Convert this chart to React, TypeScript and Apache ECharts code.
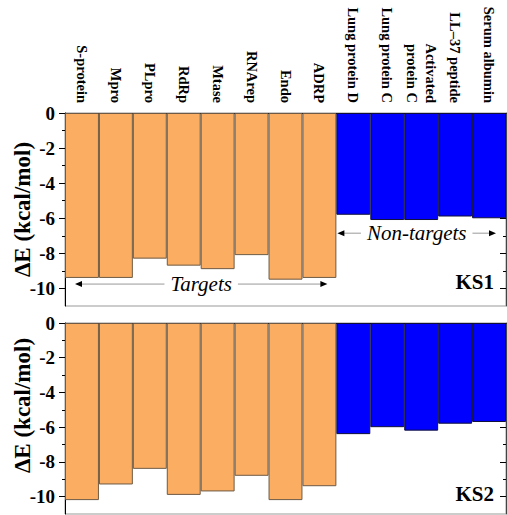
import React, { useEffect, useRef } from 'react';
import * as echarts from 'echarts';

const categories = [
  'S-protein', 'Mpro', 'PLpro', 'RdRp', 'Mtase', 'RNArep', 'Endo', 'ADRP',
  'Lung protein D', 'Lung protein C', 'Activated\nprotein C', 'LL–37 peptide', 'Serum albumin',
];
const ks1Values = [-9.4, -9.4, -8.3, -8.7, -8.9, -8.1, -9.5, -9.4, -5.8, -6.1, -6.1, -5.9, -6.0];
const ks2Values = [-10.2, -9.3, -8.4, -9.9, -9.7, -8.8, -10.2, -9.4, -6.4, -6.0, -6.2, -5.8, -5.7];
const targetCount = 8;
const panelLabels = ['KS1', 'KS2'];
const yName = 'ΔE (kcal/mol)';
const yMin = -11;
const yMax = 0;
const majorTicks = [0, -2, -4, -6, -8, -10];
const minorTicks = [-1, -3, -5, -7, -9];

const SERIF = 'Liberation Serif';
const ORANGE = '#FBAD62';
const BLUE = '#0000FF';

const grids = [
  { left: 65, top: 113, right: 1, height: 193 },
  { left: 65, top: 323, right: 1, height: 191 },
];

function yAxisFor(gridIndex: number, right: boolean, major: boolean) {
  const vals = major ? majorTicks : minorTicks;
  return {
    type: 'value',
    gridIndex,
    position: right ? 'right' : 'left',
    offset: 0,
    min: yMin,
    max: yMax,
    axisLine: {
      show: major,
      onZero: false,
      lineStyle: { color: right ? '#444' : '#000', width: 1 },
    },
    axisTick: {
      show: true,
      inside: right,
      length: major ? 6 : 3,
      customValues: vals,
      lineStyle: { color: '#000' },
    },
    splitLine: { show: false },
    axisLabel:
      !right && major
        ? {
            show: true,
            margin: 10,
            color: '#000',
            fontFamily: SERIF,
            fontWeight: 'bold',
            fontSize: 19,
            customValues: vals,
          }
        : { show: false },
  };
}

function xAxisFor(gridIndex: number, labels: boolean) {
  return {
    type: 'category',
    gridIndex,
    position: 'top',
    data: categories,
    boundaryGap: true,
    axisLine: { show: true, onZero: false, lineStyle: { color: '#000', width: 1 } },
    axisTick: { show: true, inside: true, length: 6, alignWithLabel: true, lineStyle: { color: '#000' } },
    axisLabel: labels
      ? {
          show: true,
          interval: 0,
          rotate: 90,
          margin: 10,
          color: '#000',
          fontFamily: SERIF,
          fontWeight: 'bold',
          fontSize: 14.5,
          lineHeight: 19,
        }
      : { show: false },
    splitLine: { show: false },
  };
}

function barSeries(gridIndex: number, values: number[]) {
  return {
    type: 'bar',
    xAxisIndex: gridIndex,
    yAxisIndex: gridIndex * 4,
    barCategoryGap: '0%',
    data: values.map((v, i) => ({
      value: v,
      itemStyle: {
        color: i < targetCount ? ORANGE : BLUE,
        borderColor: i < targetCount ? '#6e5a45' : '#10103a',
        borderWidth: 1,
      },
    })),
  };
}

export default function App() {
  const ref = useRef<HTMLDivElement>(null);
  useEffect(() => {
    if (!ref.current) return;
    const chart = echarts.init(ref.current, undefined, { renderer: 'svg' });
    chart.setOption({
      animation: false,
      backgroundColor: '#fff',
      grid: grids.map((g) => ({ ...g, show: true, borderColor: '#999', borderWidth: 1, backgroundColor: 'transparent' })),
      xAxis: [xAxisFor(0, true), xAxisFor(1, false)],
      yAxis: [
        yAxisFor(0, false, true), yAxisFor(0, false, false), yAxisFor(0, true, true), yAxisFor(0, true, false),
        yAxisFor(1, false, true), yAxisFor(1, false, false), yAxisFor(1, true, true), yAxisFor(1, true, false),
      ],
      series: [barSeries(0, ks1Values), barSeries(1, ks2Values)],
    });

    const px = (gi: number, x: number, y: number) =>
      chart.convertToPixel({ xAxisIndex: gi, yAxisIndex: gi * 4 } as any, [x, y]) as number[];
    const c0 = px(0, 0, 0);
    const c1 = px(0, 1, 0);
    const band = c1[0] - c0[0];
    const n = categories.length;
    const leftEdge = (i: number) => px(0, i, 0)[0] - band / 2;
    const rightEdge = (i: number) => px(0, i, 0)[0] + band / 2;

    const elements: any[] = [];
    const arrow = (x1: number, x2: number, y: number, label: string) => {
      elements.push({
        type: 'line',
        z: 10,
        shape: { x1: x1 + 4, y1: y, x2: x2 - 4, y2: y },
        style: { stroke: '#999', lineWidth: 1 },
      });
      elements.push({
        type: 'polygon',
        z: 11,
        shape: { points: [[x1, y], [x1 + 7, y - 3], [x1 + 7, y + 3]] },
        style: { fill: '#000' },
      });
      elements.push({
        type: 'polygon',
        z: 11,
        shape: { points: [[x2, y], [x2 - 7, y - 3], [x2 - 7, y + 3]] },
        style: { fill: '#000' },
      });
      elements.push({
        type: 'text',
        z: 12,
        x: (x1 + x2) / 2,
        y,
        style: {
          text: label,
          fill: '#000',
          fontFamily: SERIF,
          fontStyle: 'italic',
          fontSize: 21,
          align: 'center',
          verticalAlign: 'middle',
          backgroundColor: '#fff',
          padding: [0, 6],
        },
      });
    };
    const yT = px(0, 0, -9.75)[1];
    arrow(leftEdge(0) + 10, rightEdge(targetCount - 1) - 9, yT, 'Targets');
    const yN = px(0, 0, -6.85)[1];
    arrow(leftEdge(targetCount) + 1, rightEdge(n - 1) - 10, yN, 'Non-targets');

    [0, 1].forEach((gi) => {
      const top = px(gi, 0, yMax)[1];
      const bot = px(gi, 0, yMin)[1];
      elements.push({
        type: 'text',
        z: 12,
        x: 22,
        y: gi === 0 ? (top + bot) / 2 : (top + bot) / 2 - 13,
        rotation: Math.PI / 2,
        style: {
          text: yName,
          fill: '#000',
          fontFamily: SERIF,
          fontWeight: 'bold',
          fontSize: 23,
          align: 'center',
          verticalAlign: 'middle',
        },
      });
      const yk = px(gi, 0, -10)[1];
      elements.push({
        type: 'text',
        z: 12,
        x: rightEdge(n - 1) - 12,
        y: yk + (gi === 0 ? 4 : 8),
        style: {
          text: panelLabels[gi],
          fill: '#000',
          fontFamily: SERIF,
          fontWeight: 'bold',
          fontSize: 21,
          align: 'right',
          verticalAlign: 'bottom',
        },
      });
    });

    chart.setOption({ graphic: { elements } });
    return () => chart.dispose();
  }, []);
  return (
    <div
      ref={ref}
      style={{ position: 'fixed', left: 0, top: 0, width: 507, height: 515, background: '#fff' }}
    />
  );
}
